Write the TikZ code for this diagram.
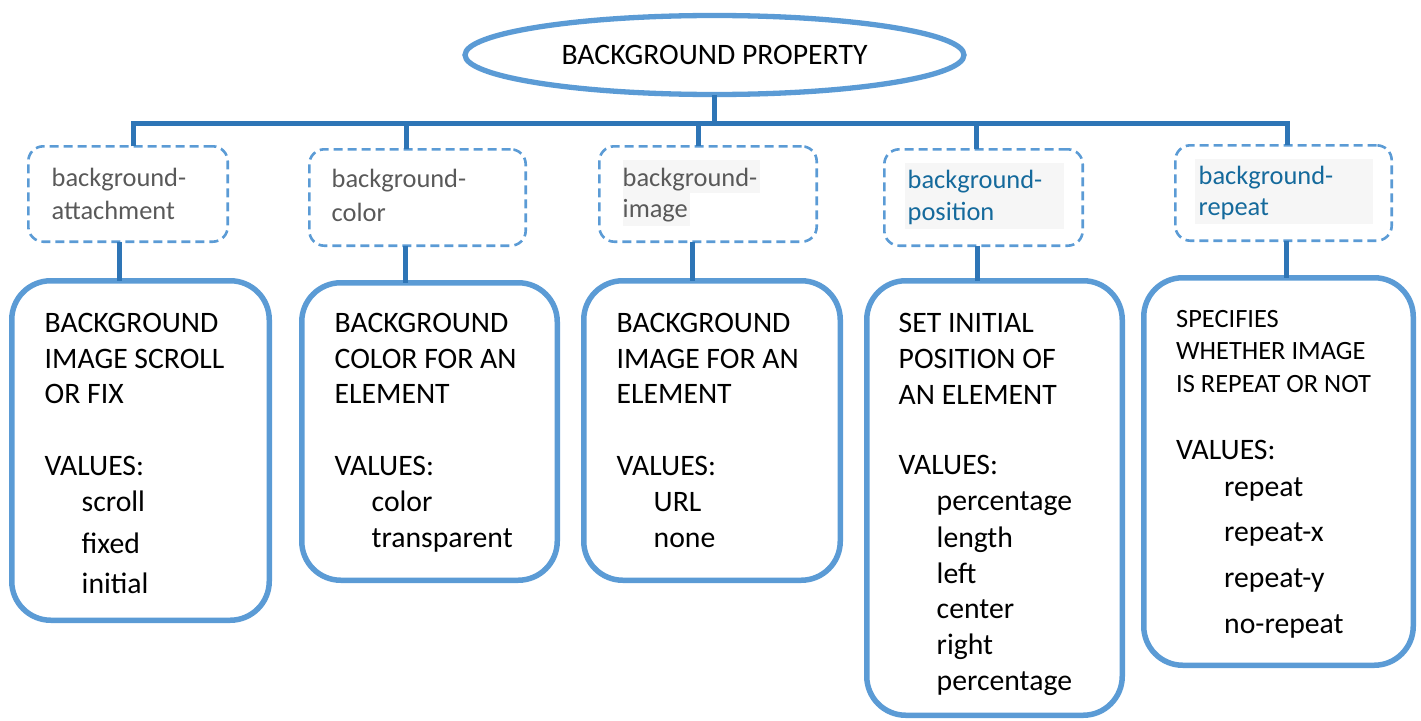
\documentclass[tikz,border=0pt]{standalone}
\usepackage{fontspec}
\setmainfont{Carlito}
\usetikzlibrary{shapes.geometric}
\definecolor{lblue}{HTML}{5B9BD5}
\definecolor{dblue}{HTML}{2E75B6}
\definecolor{lgray}{HTML}{595959}
\definecolor{tblue}{HTML}{156A9C}
\definecolor{hlgray}{HTML}{F6F6F6}
\begin{document}
\begin{tikzpicture}[x=1pt,y=-1pt,
 conn/.style={draw=dblue,line width=5pt},
 rootnode/.style={ellipse,draw=lblue,line width=5.3pt,inner sep=0pt,outer sep=0pt,minimum width=499pt,minimum height=79pt,font=\fontsize{29.7}{35}\selectfont},
 propbox/.style={rectangle,draw=lblue,line width=2.6pt,dash pattern=on 9pt off 5pt,rounded corners=15pt,inner sep=0pt,outer sep=0pt},
 descbox/.style={rectangle,draw=lblue,line width=5.5pt,rounded corners=39pt,inner sep=0pt,outer sep=0pt},
 proptext/.style={inner sep=0pt,anchor=base west,font=\fontsize{26.4}{32}\selectfont},
 desctext/.style={inner sep=0pt,anchor=base west,font=\fontsize{29.7}{36}\selectfont},
 hl/.style={fill=hlgray,draw=none},
]
\useasboundingbox (0,0) rectangle (1421,720);

% root
\node[rootnode] (E) at (714.5,55) {BACKGROUND PROPERTY};

% property boxes (dashed)
\node[propbox,minimum width=199.4pt,minimum height=95.4pt] (D1) at (128,194) {};
\node[propbox,minimum width=216.4pt,minimum height=96.4pt] (D2) at (417.5,197.5) {};
\node[propbox,minimum width=217.4pt,minimum height=95.4pt] (D3) at (708,194) {};
\node[propbox,minimum width=198.4pt,minimum height=96.4pt] (D4) at (983.5,197.5) {};
\node[propbox,minimum width=216.4pt,minimum height=95.4pt] (D5) at (1283.5,193) {};

% highlights
\fill[hl] (623,160) rectangle (760,193);
\fill[hl] (623,193) rectangle (690,226);
\fill[hl] (905,163) rectangle (1064,229);
\fill[hl] (1195,159) rectangle (1373,224);

\node[proptext,text=lgray] (T1) at (51.5,186) {\parbox[t]{170pt}{background-\\[1pt]attachment}};
\node[proptext,text=lgray] (T2) at (331.5,187.5) {\parbox[t]{170pt}{background-\\[2pt]color}};
\node[proptext,text=lgray] (T3) at (622.5,186) {\parbox[t]{170pt}{background-\\[-1pt]image}};
\node[proptext,text=tblue] (T4) at (907.5,188) {\parbox[t]{170pt}{background-\\position}};
\node[proptext,text=tblue] (T5) at (1198.5,184) {\parbox[t]{170pt}{background-\\[-1pt]repeat}};

% description boxes
\node[descbox,minimum width=257.5pt,minimum height=339.5pt] (B1) at (140.5,450.5) {};
\node[descbox,minimum width=255.5pt,minimum height=297.5pt] (B2) at (429.5,431.5) {};
\node[descbox,minimum width=256.5pt,minimum height=299.5pt] (B3) at (712,430.5) {};
\node[descbox,minimum width=255.5pt,minimum height=434.5pt] (B4) at (994.5,498) {};
\node[descbox,minimum width=269.5pt,minimum height=387.5pt] (B5) at (1278.5,471.5) {};

\node[desctext] (X1) at (44.5,332) {\parbox[t]{225pt}{BACKGROUND\\IMAGE SCROLL\\[-1pt]OR FIX\\[36pt]VALUES:\\\hspace*{37pt}scroll\\[6pt]\hspace*{37pt}fixed\\[4pt]\hspace*{37pt}initial}};
\node[desctext] (X2) at (334.5,332) {\parbox[t]{225pt}{BACKGROUND\\COLOR FOR AN\\[-1pt]ELEMENT\\[36pt]VALUES:\\\hspace*{37pt}color\\\hspace*{37pt}transparent}};
\node[desctext] (X3) at (616.5,332) {\parbox[t]{225pt}{BACKGROUND\\IMAGE FOR AN\\[-1pt]ELEMENT\\[36pt]VALUES:\\\hspace*{37pt}URL\\\hspace*{37pt}none}};
\node[desctext] (X4) at (898.5,332) {\parbox[t]{225pt}{SET INITIAL\\POSITION OF\\AN ELEMENT\\[34pt]VALUES:\\\hspace*{38pt}percentage\\[1pt]\hspace*{38pt}length\\\hspace*{38pt}left\\[-1pt]\hspace*{38pt}center\\\hspace*{38pt}right\\\hspace*{38pt}percentage}};
\node[desctext] (X5) at (1176,327) {\parbox[t]{235pt}{{\fontsize{26.4}{32.5}\selectfont SPECIFIES\\WHETHER IMAGE\\IS REPEAT OR NOT\par}\vspace{31pt}VALUES:\\[1pt]\hspace*{48pt}repeat\\[9pt]\hspace*{48pt}repeat-x\\[10pt]\hspace*{48pt}repeat-y\\[10pt]\hspace*{48pt}no-repeat}};

% connectors
\coordinate (bus) at (0,123.5);
\draw[conn] (E.south) -- (E.south |- bus);
\draw[conn] (D1.north -| 133.5,0) -- (133.5,0 |- bus) -- (1287,0 |- bus) -- (D5.north -| 1287,0);
\draw[conn] (D2.north -| 406,0) -- (406,0 |- bus);
\draw[conn] (D3.north -| 698,0) -- (698,0 |- bus);
\draw[conn] (D4.north -| 976,0) -- (976,0 |- bus);

\draw[conn] (D1.south -| 119,0) -- (B1.north -| 119,0);
\draw[conn] (D2.south -| 405,0) -- (B2.north -| 405,0);
\draw[conn] (D3.south -| 692,0) -- (B3.north -| 692,0);
\draw[conn] (D4.south -| 977,0) -- (B4.north -| 977,0);
\draw[conn] (D5.south -| 1286,0) -- (B5.north -| 1286,0);
\end{tikzpicture}
\end{document}
